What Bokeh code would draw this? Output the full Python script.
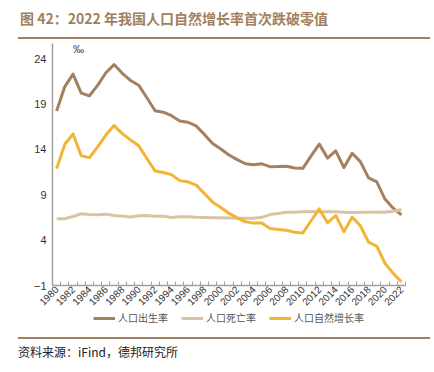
from math import pi
from bokeh.plotting import figure
from bokeh.layouts import column
from bokeh.models import Range1d, FixedTicker, Label, Legend, LegendItem, Div
from bokeh.embed import file_html
from bokeh.resources import INLINE

# ---------------- data ----------------
years = [1980, 1981, 1982, 1983, 1984, 1985, 1986, 1987, 1988, 1989,
         1990, 1991, 1992, 1993, 1994, 1995, 1996, 1997, 1998, 1999,
         2000, 2001, 2002, 2003, 2004, 2005, 2006, 2007, 2008, 2009,
         2010, 2011, 2012, 2013, 2014, 2015, 2016, 2017, 2018, 2019,
         2020, 2021, 2022]
birth_rate = [18.21, 20.91, 22.28, 20.19, 19.90, 21.04, 22.43, 23.33, 22.37, 21.58,
              21.06, 19.68, 18.24, 18.09, 17.70, 17.12, 16.98, 16.57, 15.64, 14.64,
              14.03, 13.38, 12.86, 12.41, 12.29, 12.40, 12.09, 12.10, 12.14, 11.95,
              11.90, 13.27, 14.57, 13.03, 13.83, 11.99, 13.57, 12.64, 10.86, 10.41,
              8.52, 7.52, 6.77]
death_rate = [6.34, 6.36, 6.60, 6.90, 6.82, 6.78, 6.86, 6.72, 6.64, 6.54,
              6.67, 6.70, 6.64, 6.64, 6.49, 6.57, 6.56, 6.51, 6.50, 6.46,
              6.45, 6.43, 6.41, 6.40, 6.42, 6.51, 6.81, 6.93, 7.06, 7.08,
              7.11, 7.14, 7.13, 7.13, 7.12, 7.07, 7.04, 7.06, 7.08, 7.09,
              7.07, 7.18, 7.37]
growth_rate = [11.87, 14.55, 15.68, 13.29, 13.08, 14.26, 15.57, 16.61, 15.73, 15.04,
               14.39, 12.98, 11.60, 11.45, 11.21, 10.55, 10.42, 10.06, 9.14, 8.18,
               7.58, 6.95, 6.45, 6.01, 5.87, 5.89, 5.28, 5.17, 5.08, 4.87,
               4.79, 6.13, 7.43, 5.90, 6.71, 4.93, 6.53, 5.58, 3.78, 3.32,
               1.45, 0.34, -0.60]
x_tick_years = [1980, 1982, 1984, 1986, 1988, 1990, 1992, 1994, 1996, 1998, 2000,
                2002, 2004, 2006, 2008, 2010, 2012, 2014, 2016, 2018, 2020, 2022]
y_ticks = [-1, 4, 9, 14, 19, 24]
series_names = ["人口出生率", "人口死亡率", "人口自然增长率"]
title_text = "图 42：2022 年我国人口自然增长率首次跌破零值"
source_text = "资料来源：iFind，德邦研究所"
unit_text = "‰"

# ---------------- layout constants (page px) ----------------
PAGE_W = 434
TITLE_H = 41
FIG_TOP = TITLE_H
FIG_BOT = 311
LEG_H = 14
SRC_H = 372 - FIG_BOT - LEG_H
FL, FR, FT, FB = 52, 405, 43, 285     # frame edges in page px
X0, X1 = years[0] - 0.5, years[-1] + 0.5
PX_PER_UNIT = (285 - 58) / 25.0
Y0 = -1
Y1 = 24 + (58 - FT) / PX_PER_UNIT

CJK = "Noto Sans CJK SC"
LAT = "Liberation Sans"
BROWN = "#A58060"
TAN = "#D9C4A0"
GOLD = "#F4B433"
COLORS = [BROWN, TAN, GOLD]
TITLE_C = "#A0805E"
AXIS_C = "#A0A0A0"


def dx(px):
    return X0 + (px - FL) / (FR - FL) * (X1 - X0)


def dy(py):
    return Y1 - (py - FT) / (FB - FT) * (Y1 - Y0)


p = figure(width=PAGE_W, height=FIG_BOT - FIG_TOP, output_backend="svg",
           toolbar_location=None, title=None,
           x_range=Range1d(X0, X1), y_range=Range1d(Y0, Y1),
           min_border_left=FL, min_border_right=PAGE_W - FR,
           min_border_top=FT - FIG_TOP, min_border_bottom=FIG_BOT - FB)
p.outline_line_color = None
p.grid.visible = False
p.background_fill_color = "white"
p.border_fill_color = "white"

# x axis
p.xaxis.ticker = FixedTicker(ticks=x_tick_years,
                             minor_ticks=[y - 0.5 for y in years] + [years[-1] + 0.5])
p.xaxis.major_tick_in = 0
p.xaxis.major_tick_out = 0
p.xaxis.minor_tick_in = 4
p.xaxis.minor_tick_out = 0
p.xaxis.minor_tick_line_color = AXIS_C
p.xaxis.axis_line_color = AXIS_C
p.xaxis.axis_line_width = 1.5
p.xaxis.major_label_orientation = pi / 4
p.xaxis.major_label_standoff = 2
p.xaxis.major_label_text_font = LAT
p.xaxis.major_label_text_font_size = "10px"
p.xaxis.major_label_text_color = "#333333"

# y axis
p.yaxis.ticker = FixedTicker(ticks=y_ticks)
p.yaxis.major_tick_in = 0
p.yaxis.major_tick_out = 0
p.yaxis.minor_tick_in = 0
p.yaxis.minor_tick_out = 0
p.yaxis.axis_line_color = AXIS_C
p.yaxis.axis_line_width = 1.5
p.yaxis.major_label_standoff = 6
p.yaxis.major_label_text_font = LAT
p.yaxis.major_label_text_font_size = "11px"
p.yaxis.major_label_text_color = "#333333"

# series
p.line(years, birth_rate, line_color=BROWN, line_width=3, line_join="round")
p.line(years, death_rate, line_color=TAN, line_width=3, line_join="round")
p.line(years, growth_rate, line_color=GOLD, line_width=3, line_join="round")

p.add_layout(Label(x=dx(78), y=dy(48), text=unit_text, text_align="center",
                   text_baseline="middle", text_font=LAT, text_font_size="11px",
                   text_color="#333333"))

# legend strip (its own small plot; frame is aligned with the chart frame)
lg = figure(width=PAGE_W, height=LEG_H, output_backend="svg", toolbar_location=None,
            title=None, x_axis_type=None, y_axis_type=None,
            x_range=Range1d(0, 1), y_range=Range1d(0, 1),
            min_border_left=FL, min_border_right=PAGE_W - FR,
            min_border_top=0, min_border_bottom=0)
lg.outline_line_color = None
lg.grid.visible = False
items = []
for name, c in zip(series_names, COLORS):
    rr = lg.line([0.0], [float("nan")], line_color=c, line_width=3)
    items.append(LegendItem(label=name, renderers=[rr]))
legend = Legend(items=items, orientation="horizontal", location=(93 - FL, 0),
                glyph_width=22, glyph_height=LEG_H, label_height=LEG_H,
                label_standoff=3, spacing=13, padding=0, margin=0,
                border_line_alpha=0, background_fill_alpha=0,
                label_text_font=CJK, label_text_font_size="10px",
                label_text_color="#555555")
lg.add_layout(legend)

title_div = Div(
    text=(f'<div style="margin-left:18px;width:412px;height:39px;'
          f'border-bottom:2px solid {TITLE_C};">'
          f'<div style="padding-left:2px;padding-top:9px;line-height:18px;'
          f'font-family:\'{CJK}\';font-weight:bold;font-size:14px;color:{TITLE_C};'
          f'white-space:nowrap;">{title_text}</div></div>'),
    width=PAGE_W, height=TITLE_H, margin=0)

source_div = Div(
    text=(f'<div style="margin-left:18px;margin-top:12px;width:412px;'
          f'border-top:2px solid {TITLE_C};">'
          f'<div style="padding-top:6px;line-height:14px;'
          f'font-family:\'{CJK}\';font-size:12px;color:#222222;'
          f'white-space:nowrap;">{source_text}</div></div>'),
    width=PAGE_W, height=SRC_H, margin=0)

layout = column(title_div, p, lg, source_div, spacing=0)

open("out.html", "w").write(file_html(layout, INLINE))
